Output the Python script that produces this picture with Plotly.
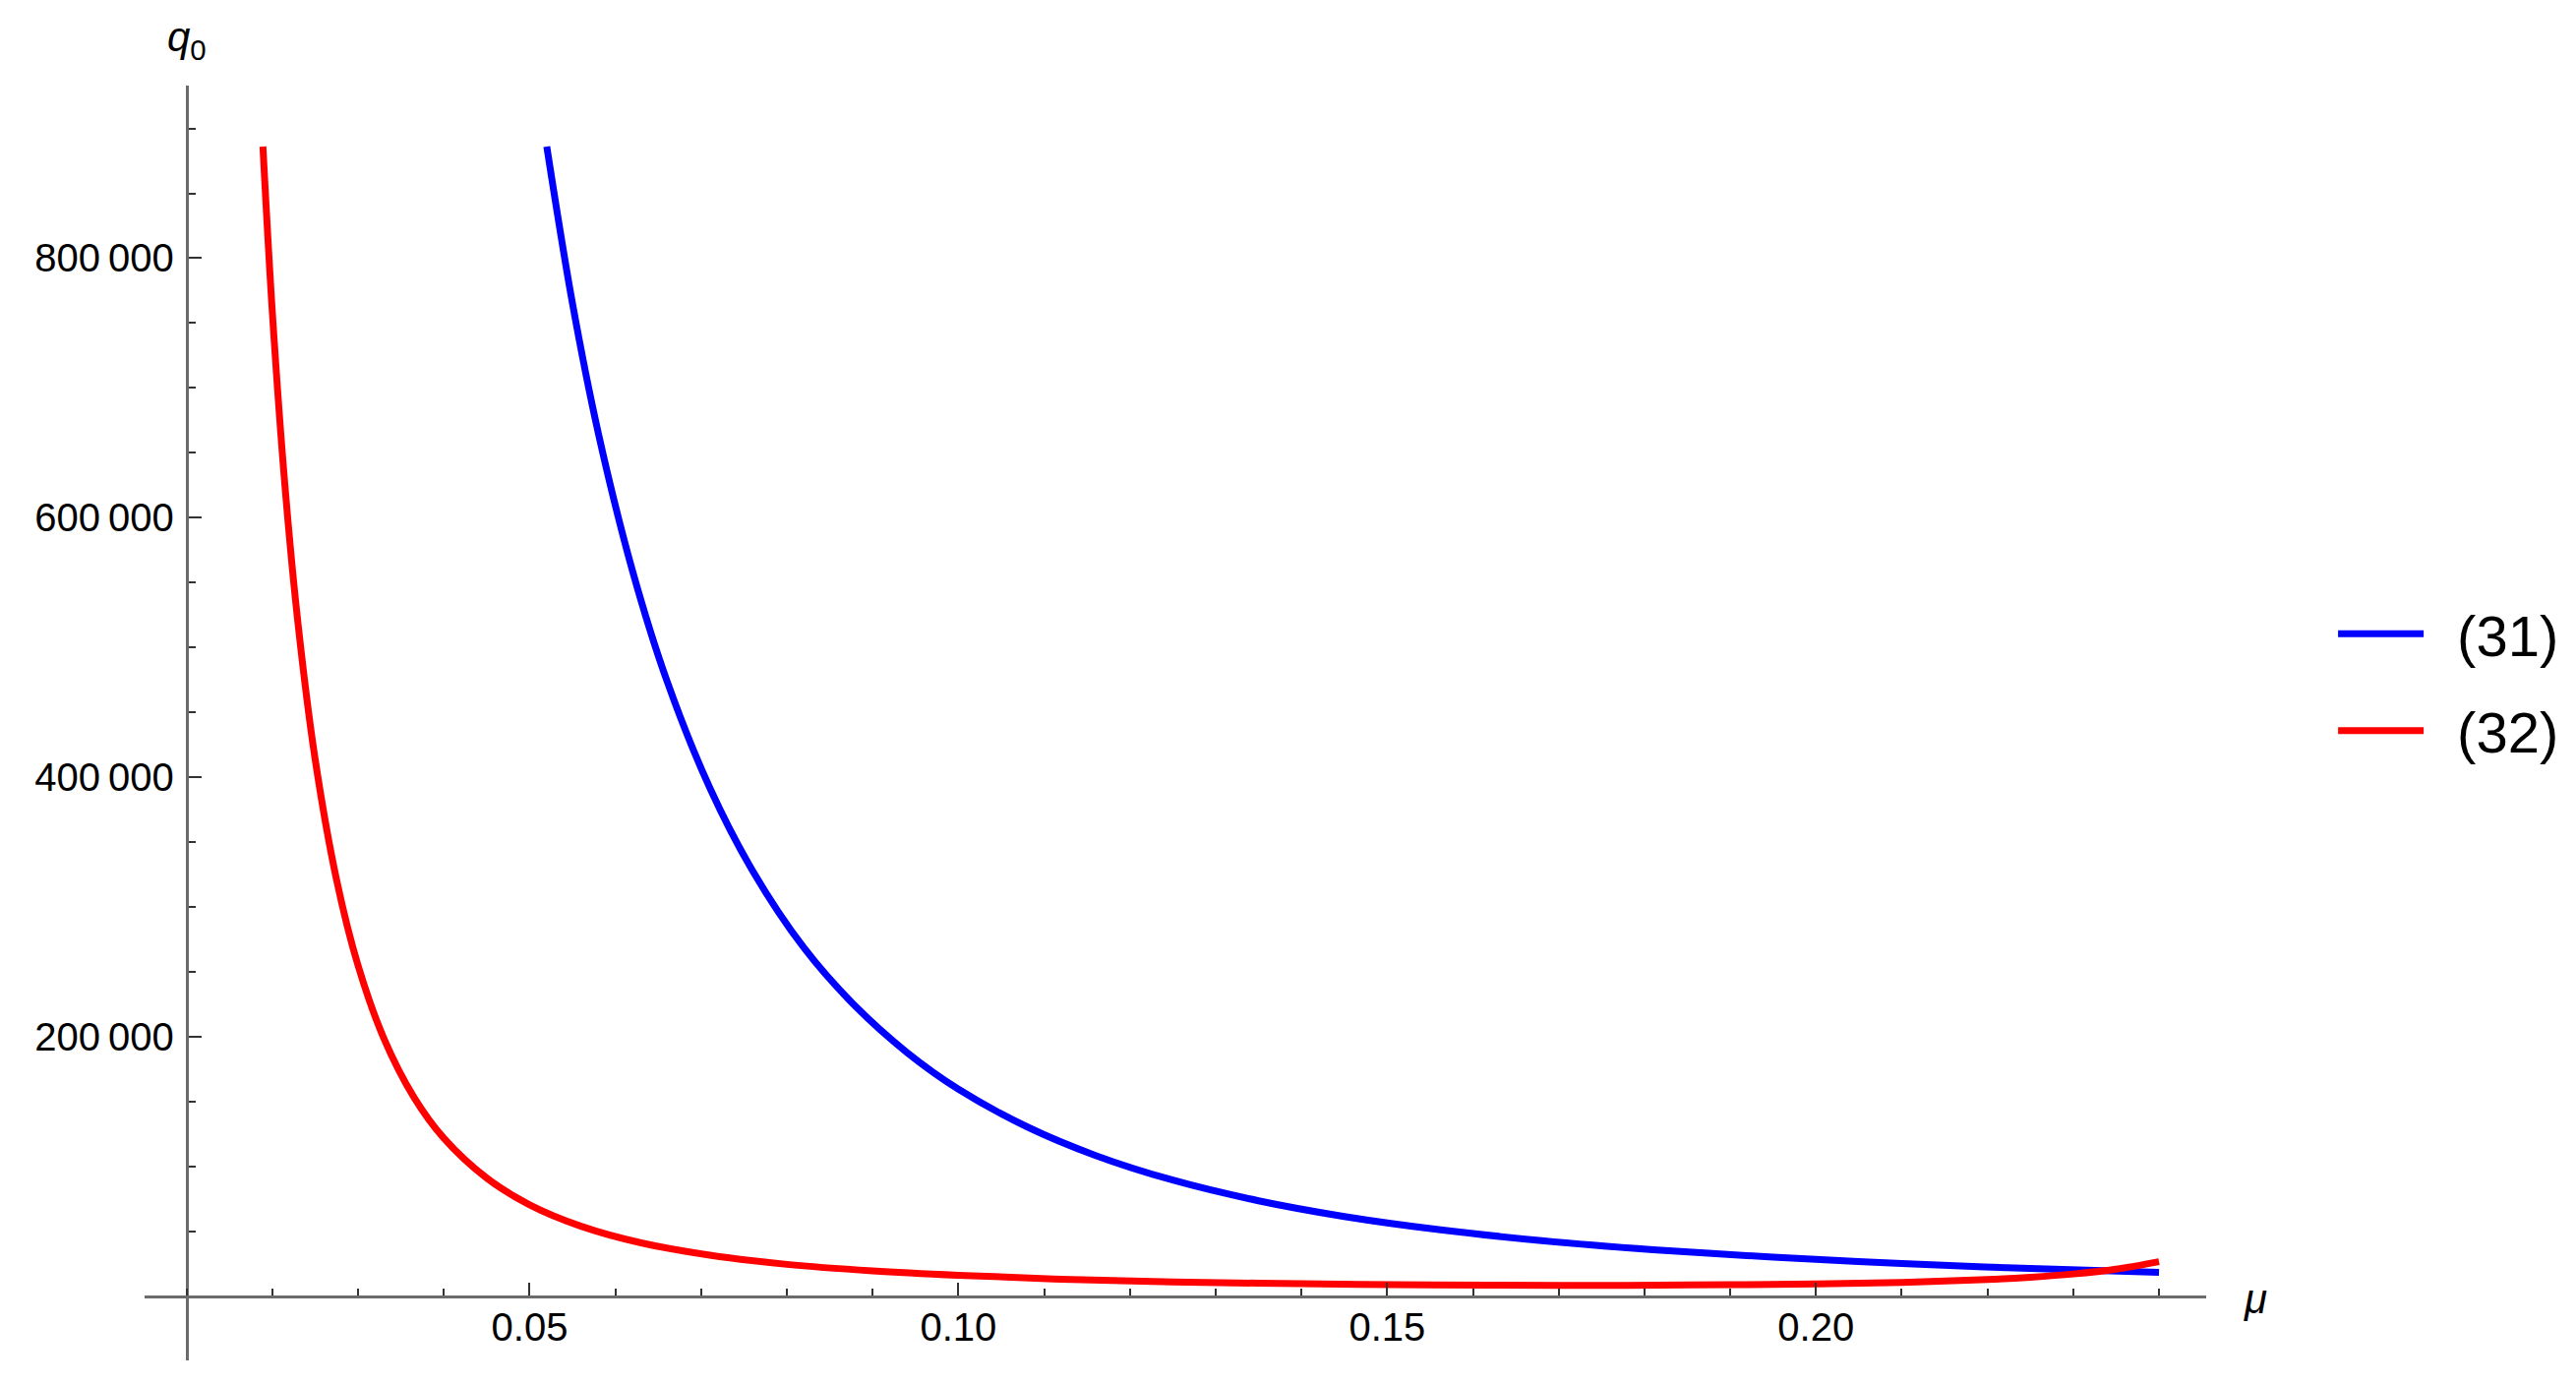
import plotly.graph_objects as go

# curve (31)
mu_31 = [0.0520, 0.0550, 0.0580, 0.0620, 0.0660, 0.0710, 0.0760, 0.0820, 0.0880,
         0.0940, 0.1000, 0.1080, 0.1160, 0.1250, 0.1350, 0.1450, 0.1560, 0.1680,
         0.1810, 0.1950, 0.2100, 0.2250, 0.2400]
q0_31 = [886000, 765000, 665500, 559000, 474500, 392000, 328000, 268500, 223500,
         188000, 159700, 130700, 108600, 89600, 73700, 61600, 51500, 43000,
         36000, 30200, 25300, 21500, 18500]

# curve (32)
mu_32 = [0.0189, 0.0200, 0.0215, 0.0230, 0.0250, 0.0275, 0.0300, 0.0330, 0.0365,
         0.0400, 0.0450, 0.0500, 0.0560, 0.0630, 0.0710, 0.0800, 0.0900, 0.1000,
         0.1120, 0.1250, 0.1400, 0.1550, 0.1700, 0.1850, 0.2000, 0.2100, 0.2200,
         0.2250, 0.2300, 0.2350, 0.2400]
q0_32 = [886000, 758000, 622000, 518000, 413500, 320600, 254800, 198900, 153600,
         121900, 91200, 70600, 54100, 41300, 31800, 24700, 19700, 16300,
         13300, 11200, 9800, 8900, 8500, 8800, 9600, 10800, 13000,
         14800, 17300, 21000, 26800]

x_tickvals = [0.05, 0.10, 0.15, 0.20]
x_ticktext = ['0.05', '0.10', '0.15', '0.20']
x_minorvals = [0.01, 0.02, 0.03, 0.04, 0.06, 0.07, 0.08, 0.09, 0.11, 0.12, 0.13, 0.14,
               0.16, 0.17, 0.18, 0.19, 0.21, 0.22, 0.23, 0.24]
y_tickvals = [200000, 400000, 600000, 800000]
y_ticktext = ['200\u2009000', '400\u2009000', '600\u2009000', '800\u2009000']
y_minorvals = [50000, 100000, 150000, 250000, 300000, 350000, 450000, 500000, 550000,
               650000, 700000, 750000, 850000, 900000]

x_range = [0.0051, 0.2455]
y_range = [-49300, 933000]
x_cross = 0.01  # where the q0 axis sits
font = 'Liberation Sans'
axis_color = '#6b6b6b'
tick_color = '#333333'

fig = go.Figure()
fig.add_trace(go.Scatter(x=mu_31, y=q0_31, mode='lines', name='\u2002(31)', legendgroup='a',
                         line=dict(color='#0000ff', width=7, shape='spline')))
fig.add_trace(go.Scatter(x=mu_32, y=q0_32, mode='lines', name='\u2002(32)', legendgroup='b',
                         line=dict(color='#ff0000', width=7, shape='spline')))

# page body adds an 8px offset, so the figure is 8px smaller than the window
fig.update_layout(
    width=2611,
    height=1400,
    margin=dict(l=139, r=376, t=79, b=25, autoexpand=False),
    plot_bgcolor='white',
    paper_bgcolor='white',
    font=dict(family=font, color='black'),
    legend=dict(
        x=1.0616, y=0.532, xanchor='left', yanchor='middle',
        font=dict(size=58, family=font, color='black'),
        itemwidth=87, tracegroupgap=20, bgcolor='rgba(0,0,0,0)'
    ),
    xaxis=dict(
        range=x_range, anchor='free', automargin=False,
        position=(0 - y_range[0]) / (y_range[1] - y_range[0]),
        showgrid=False, zeroline=False,
        showline=True, linecolor=axis_color, linewidth=3,
        tickmode='array', tickvals=x_tickvals, ticktext=x_ticktext,
        ticks='inside', ticklen=13, tickwidth=2, tickcolor=tick_color,
        minor=dict(tickmode='array', tickvals=x_minorvals, ticks='inside',
                   ticklen=7, tickwidth=2, tickcolor=tick_color),
        tickfont=dict(size=40, family=font, color='black'),
        ticklabelstandoff=-5,
    ),
    yaxis=dict(
        range=y_range, anchor='free', automargin=False,
        position=(x_cross - x_range[0]) / (x_range[1] - x_range[0]),
        showgrid=False, zeroline=False,
        showline=True, linecolor=axis_color, linewidth=3,
        tickmode='array', tickvals=y_tickvals, ticktext=y_ticktext,
        ticks='inside', ticklen=13, tickwidth=2, tickcolor=tick_color,
        minor=dict(tickmode='array', tickvals=y_minorvals, ticks='inside',
                   ticklen=7, tickwidth=2, tickcolor=tick_color),
        tickfont=dict(size=40, family=font, color='black'),
        ticklabelstandoff=4,
    ),
    annotations=[
        dict(text='<i>q</i><sub>0</sub>', x=x_cross, xref='x', y=1.036, yref='paper',
             xanchor='center', yanchor='middle', showarrow=False,
             font=dict(size=42, family=font, color='black')),
        dict(text='<i>μ</i>', x=1.024, xref='paper', y=0, yref='y',
             xanchor='center', yanchor='middle', showarrow=False, yshift=-3,
             font=dict(size=42, family=font, color='black')),
    ],
)

fig.write_html("out.html")
